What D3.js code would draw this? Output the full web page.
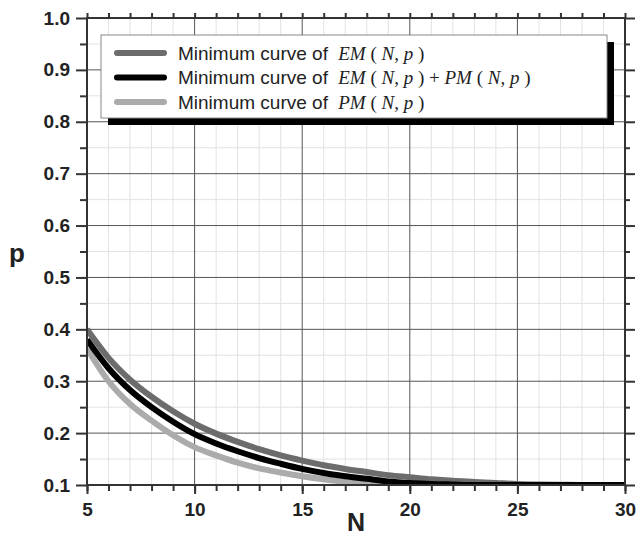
<!DOCTYPE html>
<html>
<head>
<meta charset="utf-8">
<script src="https://cdn.jsdelivr.net/npm/d3@7"></script>
<style>
  body { margin: 0; background: #fff; }
  svg { display: block; }
  .tick-label { font-family: "Liberation Sans", Arial, sans-serif; font-weight: bold; font-size: 19px; fill: #222; }
</style>
</head>
<body>
<div id="chart"></div>
<script>
//
// Minimum curves of EM, PM and EM+PM against N.
//

var nValues = [5, 6, 7, 8, 9, 10, 11, 12, 13, 14, 15, 16, 17, 18, 19, 20, 21, 22, 23, 24, 25, 26, 27, 28, 29, 30];

var emCurve = [0.400, 0.345, 0.303, 0.270, 0.242, 0.218, 0.199, 0.183, 0.169, 0.157,
               0.147, 0.138, 0.131, 0.125, 0.119, 0.115, 0.111, 0.108, 0.106, 0.104,
               0.102, 0.101, 0.1005, 0.100, 0.100, 0.100];
var sumCurve = [0.380, 0.325, 0.283, 0.250, 0.222, 0.198, 0.180, 0.165, 0.152, 0.141,
                0.131, 0.123, 0.117, 0.112, 0.107, 0.104, 0.102, 0.101, 0.100, 0.100,
                0.100, 0.100, 0.100, 0.100, 0.100, 0.100];
var pmCurve = [0.363, 0.300, 0.256, 0.224, 0.196, 0.173, 0.157, 0.143, 0.132, 0.124,
               0.117, 0.111, 0.106, 0.103, 0.101, 0.100, 0.100, 0.100, 0.100, 0.100,
               0.100, 0.100, 0.100, 0.100, 0.100, 0.100];

var xMajor = [5, 10, 15, 20, 25, 30];
var xMinor = d3.range(5, 31, 1);
var yMajor = [0.1, 0.2, 0.3, 0.4, 0.5, 0.6, 0.7, 0.8, 0.9, 1.0];
var yMinor = [0.15, 0.25, 0.35, 0.45, 0.55, 0.65, 0.75, 0.85, 0.95];

var seriesNames = ["EM", "EM+PM", "PM"];

const W = 637, H = 537;
const margin = { top: 18, right: 12, bottom: 52, left: 87 };
const width = W - margin.left - margin.right;
const height = H - margin.top - margin.bottom;

const svg = d3.select('#chart').append('svg')
  .attr('width', W)
  .attr('height', H);

const g = svg.append('g')
  .attr('transform', `translate(${margin.left},${margin.top})`);

const x = d3.scaleLinear().domain([5, 30]).range([0, width]);
const y = d3.scaleLinear().domain([0.1, 1.0]).range([height, 0]);

// minor grid
g.append('g').selectAll('line').data(xMinor.filter(d => xMajor.indexOf(d) < 0)).join('line')
  .attr('x1', d => x(d)).attr('x2', d => x(d))
  .attr('y1', 0).attr('y2', height)
  .style('stroke', '#e2e2e2').style('stroke-width', 1);
g.append('g').selectAll('line').data(yMinor).join('line')
  .attr('x1', 0).attr('x2', width)
  .attr('y1', d => y(d)).attr('y2', d => y(d))
  .style('stroke', '#e2e2e2').style('stroke-width', 1);

// major grid
g.append('g').selectAll('line').data(xMajor).join('line')
  .attr('x1', d => x(d)).attr('x2', d => x(d))
  .attr('y1', 0).attr('y2', height)
  .style('stroke', '#555').style('stroke-width', 1);
g.append('g').selectAll('line').data(yMajor).join('line')
  .attr('x1', 0).attr('x2', width)
  .attr('y1', d => y(d)).attr('y2', d => y(d))
  .style('stroke', '#555').style('stroke-width', 1);

// curves
g.append('clipPath').attr('id', 'plotClip')
  .append('rect').attr('width', width).attr('height', height);

const line = d3.line()
  .x((d, i) => x(nValues[i]))
  .y(d => y(d))
  .curve(d3.curveMonotoneX);

const curves = g.append('g').attr('clip-path', 'url(#plotClip)');
curves.append('path').datum(pmCurve).attr('d', line)
  .style('fill', 'none').style('stroke', '#ababab').style('stroke-width', 6);
curves.append('path').datum(emCurve).attr('d', line)
  .style('fill', 'none').style('stroke', '#6c6c6c').style('stroke-width', 6);
curves.append('path').datum(sumCurve).attr('d', line)
  .style('fill', 'none').style('stroke', '#000').style('stroke-width', 6);

// axes
function styleAxis(sel) {
  sel.select('.domain').remove();
  sel.selectAll('.tick line').style('stroke', '#333').style('stroke-width', 2);
  sel.selectAll('.tick text').attr('class', 'tick-label');
}

g.append('g').attr('transform', `translate(0,${height})`)
  .call(d3.axisBottom(x).tickValues(xMinor).tickSize(6).tickFormat(''))
  .call(styleAxis);
g.append('g').attr('transform', `translate(0,${height})`)
  .call(d3.axisBottom(x).tickValues(xMajor).tickSize(9).tickPadding(9).tickFormat(d3.format('d')))
  .call(styleAxis);

g.append('g')
  .call(d3.axisLeft(y).tickValues(yMinor).tickSize(7).tickFormat(''))
  .call(styleAxis);
g.append('g')
  .call(d3.axisLeft(y).tickValues(yMajor).tickSize(11).tickPadding(6).tickFormat(d3.format('.1f')))
  .call(styleAxis);

g.append('g')
  .call(d3.axisTop(x).tickValues(xMinor).tickSize(5).tickFormat(''))
  .call(styleAxis);
g.append('g').attr('transform', `translate(${width},0)`)
  .call(d3.axisRight(y).tickValues(yMinor).tickSize(5).tickFormat(''))
  .call(styleAxis);
g.append('g').attr('transform', `translate(${width},0)`)
  .call(d3.axisRight(y).tickValues(yMajor).tickSize(10).tickFormat(''))
  .call(styleAxis);

// frame
g.append('rect').attr('width', width).attr('height', height)
  .style('fill', 'none').style('stroke', '#333').style('stroke-width', 2);

// axis titles
svg.append('text').text('N')
  .attr('x', 356).attr('y', 531)
  .attr('text-anchor', 'middle')
  .style('font-family', '"Liberation Sans", Arial, sans-serif')
  .style('font-weight', 'bold').style('font-size', '25px').style('fill', '#222');
svg.append('text').text('p')
  .attr('x', 17).attr('y', 262)
  .attr('text-anchor', 'middle')
  .style('font-family', '"Liberation Sans", Arial, sans-serif')
  .style('font-weight', 'bold').style('font-size', '26px').style('fill', '#222');

// legend
const lx = 101, ly = 35, lw = 506, lh = 83;
svg.append('rect').attr('x', lx + 7).attr('y', ly + 7).attr('width', lw).attr('height', lh)
  .style('fill', '#000');
svg.append('rect').attr('x', lx).attr('y', ly).attr('width', lw).attr('height', lh)
  .style('fill', '#fff').style('stroke', '#888').style('stroke-width', 1);

var legendColors = ['#6c6c6c', '#000', '#ababab'];
var legendMath = [
  [['EM', 1], [' ( ', 0], ['N', 1], [', ', 0], ['p', 1], [' )', 0]],
  [['EM', 1], [' ( ', 0], ['N', 1], [', ', 0], ['p', 1], [' ) + ', 0], ['PM', 1], [' ( ', 0], ['N', 1], [', ', 0], ['p', 1], [' )', 0]],
  [['PM', 1], [' ( ', 0], ['N', 1], [', ', 0], ['p', 1], [' )', 0]]
];

seriesNames.forEach((name, i) => {
  var cy = 53 + i * 24.5;
  svg.append('line')
    .attr('x1', 117).attr('x2', 164)
    .attr('y1', cy).attr('y2', cy)
    .style('stroke', legendColors[i]).style('stroke-width', 6).style('stroke-linecap', 'round');
  var t = svg.append('text')
    .attr('x', 178).attr('y', cy + 6.5)
    .style('font-family', '"Liberation Sans", Arial, sans-serif')
    .style('font-size', '19px').style('fill', '#222');
  t.append('tspan').text('Minimum curve of ');
  var m = t.append('tspan').attr('dx', 5)
    .style('font-family', '"Liberation Serif", "Times New Roman", serif')
    .style('font-size', '19px');
  legendMath[i].forEach(p => {
    m.append('tspan').text(p[0]).style('font-style', p[1] ? 'italic' : 'normal')
      .attr('xml:space', 'preserve');
  });
});
</script>
</body>
</html>
